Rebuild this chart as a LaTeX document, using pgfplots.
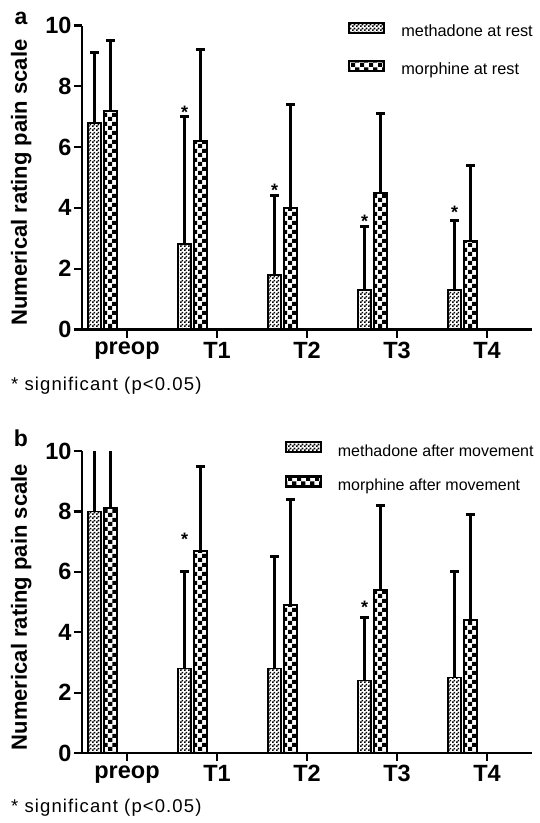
\documentclass[border=0pt]{standalone}
\usepackage{fontspec}
\setmainfont{Liberation Sans}
\usepackage{pgfplots}
\pgfplotsset{compat=1.18}
\usetikzlibrary{patterns.meta}

\pgfdeclarepattern{
  name=finecheck, type=uncolored,
  bottom left={\pgfpoint{0pt}{0pt}}, top right={\pgfpoint{4pt}{4pt}},
  tile size={\pgfpoint{4pt}{4pt}},
  code={\pgfpathrectangle{\pgfpointorigin}{\pgfpoint{2pt}{2pt}}%
        \pgfpathrectangle{\pgfpoint{2pt}{2pt}}{\pgfpoint{2pt}{2pt}}%
        \pgfusepath{fill}}
}
\pgfdeclarepattern{
  name=bigcheck, type=uncolored,
  bottom left={\pgfpoint{0pt}{0pt}}, top right={\pgfpoint{9pt}{9pt}},
  tile size={\pgfpoint{9pt}{9pt}},
  code={\pgfpathrectangle{\pgfpointorigin}{\pgfpoint{4.5pt}{4.5pt}}%
        \pgfpathrectangle{\pgfpoint{4.5pt}{4.5pt}}{\pgfpoint{4.5pt}{4.5pt}}%
        \pgfusepath{fill}}
}

\pgfplotsset{
  panel/.style={
    scale only axis, width=450pt,
    xmin=-0.5, xmax=4.5, ymin=0, ymax=10,
    axis x line*=bottom, axis y line*=left,
    axis line style={line width=2.5pt},
    xtick={0,1,2,3,4}, xticklabels={preop,T1,T2,T3,T4},
    ytick={0,2,4,6,8,10},
    tick align=outside, major tick length=8pt,
    tick style={line width=2.2pt, black},
    ticklabel style={font=\fontsize{23.5}{23.5}\selectfont\bfseries},
    xticklabel style={yshift=-1pt},
    yticklabel style={xshift=1pt},
    /pgf/number format/assume math mode=true,
    ylabel={Numerical rating pain scale},
    every axis y label/.style={at={(axis description cs:-0.135,0.483)}, rotate=90, anchor=center,
      font=\fontsize{22}{22}\selectfont\bfseries},
    clip=false,
  },
  errstyle/.style={
    error bars/y dir=plus, error bars/y explicit, error bars/error mark=|,
    error bars/error bar style={line width=2.4pt, solid},
    error bars/error mark options={line width=3pt, mark size=4.5pt, solid}},
  meth/.style={ybar, bar width=0.14, bar shift=0pt, draw=black, line width=1.8pt,
    pattern=finecheck, pattern color=black,
    legend image code/.code={\draw[draw=black, line width=2.2pt, pattern=finecheck] (0pt,0pt) rectangle (35pt,10pt);},
    errstyle},
  morph/.style={ybar, bar width=0.14, bar shift=0pt, draw=black, line width=1.8pt,
    pattern=bigcheck, pattern color=black,
    legend image code/.code={\draw[draw=black, line width=2.2pt, pattern=bigcheck] (0pt,0pt) rectangle (35pt,10pt);},
    errstyle},
  stars/.style={only marks, mark=none, forget plot,
    nodes near coords={*},
    every node near coord/.style={anchor=center, inner sep=0pt, font=\fontsize{18}{18}\selectfont\bfseries}},
}

\begin{document}
\begin{tikzpicture}
\path[use as bounding box] (0,0) rectangle (539pt,-823pt);

% ---------- panel a ----------
\begin{axis}[panel, height=304pt, at={(82pt,-329.5pt)}, anchor=south west,
  legend style={at={(axis description cs:0.5911,1.0138)}, anchor=north west,
    draw=none, fill=none, inner sep=0pt, row sep=19pt, column sep=16pt,
    font=\fontsize{16.3}{16.3}\selectfont,
    nodes={inner sep=0pt, text height=12pt, text depth=4pt}},
  legend cell align=left]
\addplot[meth] coordinates {
  (-0.36,6.8) += (0,2.3)
  (0.64,2.8)  += (0,4.2)
  (1.64,1.8)  += (0,2.6)
  (2.64,1.3)  += (0,2.1)
  (3.64,1.3)  += (0,2.3)
};
\addlegendentry{methadone at rest}
\addplot[morph] coordinates {
  (-0.185,7.2) += (0,2.3)
  (0.815,6.2)  += (0,3.0)
  (1.815,4.0)  += (0,3.4)
  (2.815,4.5)  += (0,2.6)
  (3.815,2.9)  += (0,2.5)
};
\addlegendentry{morphine at rest}
\addplot[stars] coordinates {(0.64,7.16) (1.64,4.59) (2.64,3.57) (3.64,3.85)};
\end{axis}

% ---------- panel b ----------
\begin{axis}[panel, height=302pt, at={(82pt,-753pt)}, anchor=south west,
  legend style={at={(axis description cs:0.4500,1.033)}, anchor=north west,
    draw=none, fill=none, inner sep=0pt, row sep=15pt, column sep=16pt,
    font=\fontsize{16}{16}\selectfont,
    nodes={inner sep=0pt, text height=12pt, text depth=4pt}},
  legend cell align=left]
\addplot[meth] coordinates {
  (0.64,2.8)  += (0,3.2)
  (1.64,2.8)  += (0,3.7)
  (2.64,2.4)  += (0,2.1)
  (3.64,2.5)  += (0,3.5)
};
\addlegendentry{methadone after movement}
\addplot[morph] coordinates {
  (0.815,6.7)  += (0,2.8)
  (1.815,4.9)  += (0,3.5)
  (2.815,5.4)  += (0,2.8)
  (3.815,4.4)  += (0,3.5)
};
\addlegendentry{morphine after movement}
\addplot[forget plot, meth, error bars/error mark=none] coordinates {(-0.36,8.0) += (0,2.0)};
\addplot[forget plot, morph, error bars/error mark=none] coordinates {(-0.185,8.1) += (0,1.9)};
\addplot[stars] coordinates {(0.64,7.07) (2.64,4.84)};
\end{axis}

% panel letters and footnotes
\node[font=\fontsize{23}{23}\selectfont\bfseries] at (21pt,-18pt) {a};
\node[font=\fontsize{23}{23}\selectfont\bfseries] at (21pt,-438pt) {b};
\node[anchor=west, inner sep=0pt, font=\fontsize{18.5}{18.5}\selectfont\addfontfeature{LetterSpace=6}] at (11pt,-386pt) {* significant (p<0.05)};
\node[anchor=west, inner sep=0pt, font=\fontsize{18.5}{18.5}\selectfont\addfontfeature{LetterSpace=6}] at (11pt,-808pt) {* significant (p<0.05)};
\end{tikzpicture}
\end{document}
